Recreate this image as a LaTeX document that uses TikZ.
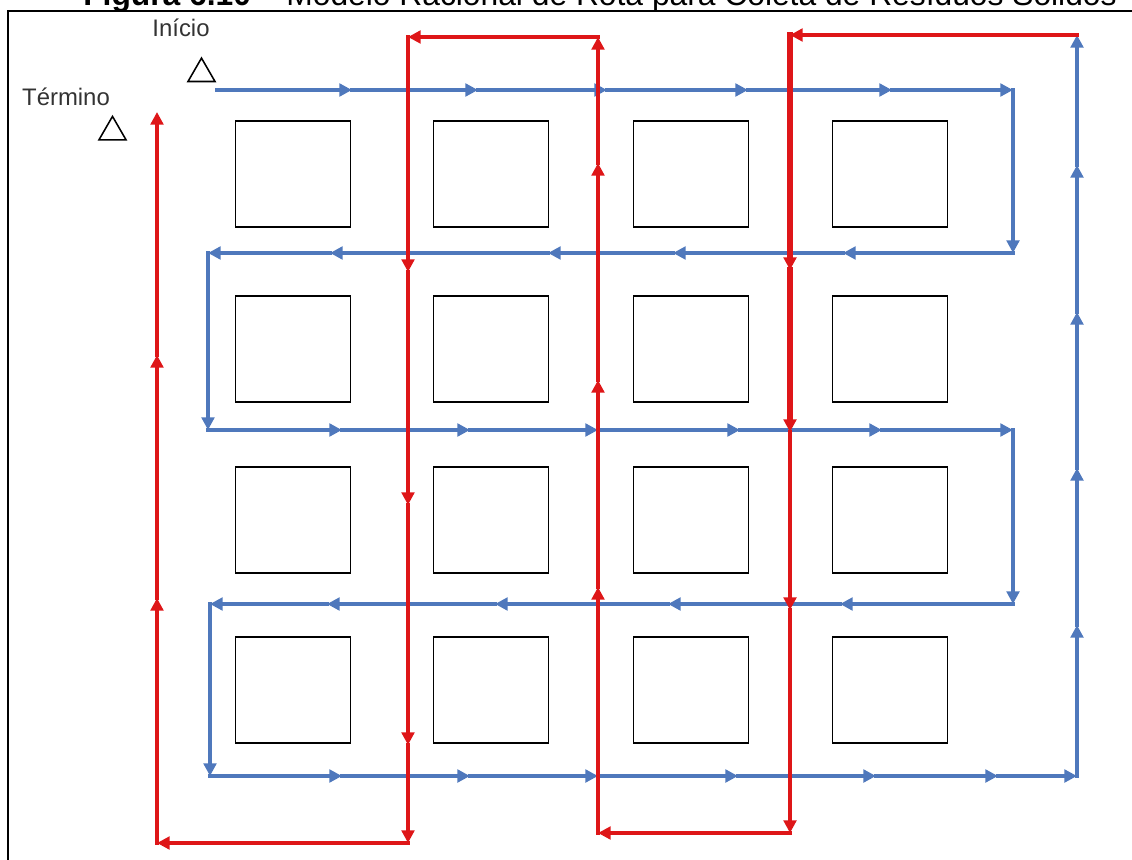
\documentclass[tikz,border=0pt]{standalone}
\usepackage{fontspec}
\setmainfont{Liberation Sans}
\usetikzlibrary{arrows.meta,shapes.geometric}
\definecolor{routeblue}{RGB}{79,120,188}
\definecolor{routered}{RGB}{222,22,24}

\begin{document}
\begin{tikzpicture}[
    x=0.025cm, y=-0.025cm,
    lot/.style={
        draw=black, line width=1.3pt, fill=white,
        minimum width=2.875cm, minimum height=2.65cm, inner sep=0pt
    },
    marker/.style={
        draw=black, line width=1.1pt, regular polygon, regular polygon sides=3,
        minimum size=0.78cm, inner sep=0pt
    },
    lbl/.style={
        font=\fontsize{17}{20}\selectfont, text=black!80, inner sep=0pt
    },
    route/.style={
        line cap=rect,
        -{Triangle[length=9pt,width=9pt]}
    },
    blueroute/.style={route, line width=2.3pt, draw=routeblue},
    redroute/.style={route, line width=#1, draw=routered}
]
\useasboundingbox (0,0) rectangle (1132,860);

% Title (cut at the top) and frame
\node[anchor=base, inner sep=0pt, font=\fontsize{22.6}{26}\selectfont] (title) at (600,6)
    {\textbf{Figura 6.10} -- Modelo Racional de Rota para Coleta de Resíduos Sólidos};
\draw[line width=1.5pt] (8,900) -- (8,11) -- (1160,11);

% Blocks
\foreach \cx [count=\i] in {293,491,691,890}
    \foreach \cy [count=\j] in {174,349,520,690}
        \node[lot] (lot-\i-\j) at (\cx,\cy) {};

% Start and end markers
\node[marker] (inicio) at (201.5,73.7) {};
\node[lbl] (inicio-lbl) at (181,28) {Início};
\node[marker] (termino) at (112.5,132) {};
\node[lbl] (termino-lbl) at (66,97) {Término};

% Blue route
\foreach \x/\y [remember=\x as \lx (initially 217), remember=\y as \ly (initially 90)] in {
    352/90, 478/90, 607/90, 748/90, 892/90, 1013/90,
    1013/253,
    843/253, 673/253, 548/253, 330/253, 208/253,
    208/430,
    342/430, 470/430, 598/430, 740/430, 882/430, 1013/430,
    1013/604,
    840/604, 668/604, 495/604, 327/604, 210/604,
    210/776,
    342/776, 470/776, 598/776, 738/776, 876/776, 998/776, 1077/776,
    1077/625, 1077/468, 1077/312, 1077/165, 1077/35}
    \draw[blueroute] (\lx,\ly) -- (\x,\y);

% Red route
\foreach \x/\y/\w [remember=\x as \lx (initially 1077), remember=\y as \ly (initially 35)] in {
    790/35/2.6pt,
    790/270/4pt, 790/432/4pt, 790/610/3.4pt, 790/833/3pt,
    598/833/2.8pt,
    598/587/2.8pt, 598/380/2.8pt, 598/163/2.8pt, 598/37/2.8pt,
    408/37/2.8pt,
    408/272/2.8pt, 408/505/2.8pt, 408/745/2.8pt, 408/843/2.8pt,
    157/843/2.8pt,
    157/598/2.8pt, 157/355/2.8pt, 157/112/2.8pt}
    \draw[redroute=\w] (\lx,\ly) -- (\x,\y);

\end{tikzpicture}
\end{document}
